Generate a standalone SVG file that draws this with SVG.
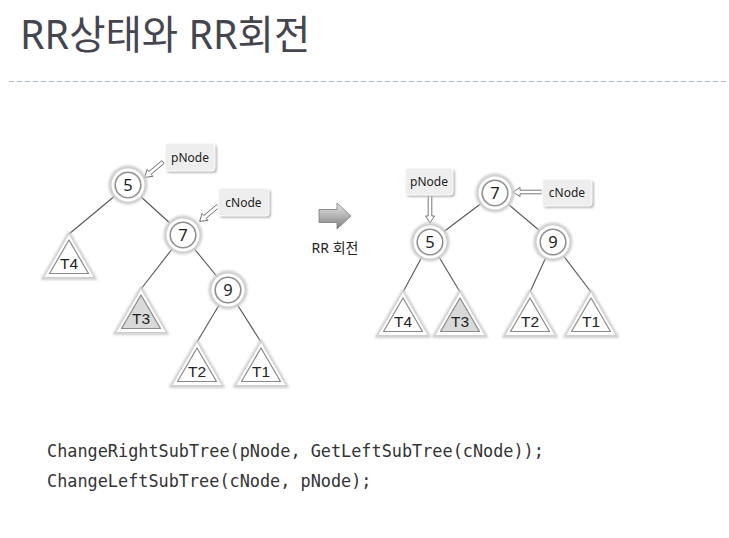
<svg xmlns="http://www.w3.org/2000/svg" xmlns:xlink="http://www.w3.org/1999/xlink" width="729" height="538" viewBox="0 0 729 538">
  <style>
    .title { font-family: "Noto Sans", "Noto Sans CJK KR", sans-serif; font-size: 39.5px; fill: #45454f; }
    .halo { fill: #cfcfcf; stroke: #cfcfcf; stroke-width: 2; stroke-linejoin: round; filter: url(#soft); }
    .ring { fill: #ffffff; }
    .core { fill: #ffffff; stroke: #8f8f8f; stroke-width: 1.6; }
    .tw { fill: #ffffff; }
    .ti { fill: #ffffff; stroke: #8a8a8a; stroke-width: 1.2; stroke-linejoin: round; }
    .shaded .ti { fill: #d9d9d9; }
    .nlabel { font-family: "Noto Sans", sans-serif; font-size: 16.5px; fill: #1e1e1e; text-anchor: middle; }
    .tlabel { font-family: "Liberation Sans", Arial, sans-serif; font-size: 15.5px; fill: #222; text-anchor: middle; }
    .tag rect.bg { fill: #eeeeee; stroke: #ffffff; stroke-width: 1; }
    .tag rect.sh { fill: #b8b8b8; filter: url(#soft); }
    .tag text { font-family: "Noto Sans", sans-serif; font-size: 12px; fill: #222; text-anchor: middle; }
    .edge { stroke: #555; stroke-width: 1.1; fill: none; }
    .hollow { fill: #ffffff; stroke: #6a6a6a; stroke-width: 0.9; stroke-linejoin: miter; }
    .code { font-family: "DejaVu Sans Mono", "Liberation Mono", monospace; font-size: 16.85px; fill: #333; }
    .cap { font-family: "Noto Sans", "Noto Sans CJK KR", sans-serif; font-size: 14px; fill: #222; text-anchor: middle; }
  </style>
  <defs>
    <filter id="soft" x="-30%" y="-30%" width="160%" height="160%">
      <feGaussianBlur stdDeviation="1.2"/>
    </filter>
    <linearGradient id="bigArrow" x1="0" y1="0" x2="0" y2="1">
      <stop offset="0" stop-color="#e6e6e6"/>
      <stop offset="0.5" stop-color="#b4b4b4"/>
      <stop offset="1" stop-color="#7d7d7d"/>
    </linearGradient>
    <!-- node disc: soft halo, white rim, thin grey inner ring -->
    <g id="disc">
      <circle r="18.5" class="halo"/>
      <circle r="16.5" class="ring"/>
      <circle r="12.8" class="core"/>
    </g>
    <!-- subtree triangle, apex at origin -->
    <g id="triShell">
      <path class="halo" d="M0,0 L27,47 L-27,47Z"/>
      <path class="tw" d="M0,2.5 L24.5,45 L-24.5,45Z"/>
    </g>
    <!-- hollow pointer arrows along +x -->
    <polygon id="ptr24" class="hollow" points="0,-1.8 17,-1.8 17,-4.5 24,0 17,4.5 17,1.8 0,1.8"/>
    <polygon id="ptr29" class="hollow" points="0,-1.8 22,-1.8 22,-4.5 29,0 22,4.5 22,1.8 0,1.8"/>
  </defs>

  <rect width="729" height="538" fill="#ffffff"/>

  <!-- heading -->
  <text class="title" x="20" y="49">RR상태와 RR회전</text>
  <line x1="9" y1="81.5" x2="727" y2="81.5" stroke="#a9b9c9" stroke-width="1" stroke-dasharray="5 3"/>

  <!-- connectors -->
  <g id="edges">
    <!-- before rotation -->
    <line class="edge" x1="128" y1="185" x2="69" y2="234"/>
    <line class="edge" x1="128" y1="185" x2="183" y2="235"/>
    <line class="edge" x1="183" y1="235" x2="141" y2="289"/>
    <line class="edge" x1="183" y1="235" x2="228" y2="290"/>
    <line class="edge" x1="228" y1="290" x2="197" y2="342"/>
    <line class="edge" x1="228" y1="290" x2="261" y2="342"/>
    <!-- after rotation -->
    <line class="edge" x1="495" y1="193" x2="430" y2="242"/>
    <line class="edge" x1="495" y1="193" x2="553" y2="242"/>
    <line class="edge" x1="430" y1="242" x2="403" y2="292"/>
    <line class="edge" x1="430" y1="242" x2="460" y2="292"/>
    <line class="edge" x1="553" y1="242" x2="530" y2="292"/>
    <line class="edge" x1="553" y1="242" x2="591" y2="292"/>
    <!-- pointer arrows -->
    <use xlink:href="#ptr24" transform="translate(163,162) rotate(140)"/>
    <use xlink:href="#ptr24" transform="translate(218,206) rotate(140)"/>
    <use xlink:href="#ptr29" transform="translate(430,194) rotate(90)"/>
    <use xlink:href="#ptr29" transform="translate(542,192) rotate(180)"/>
  </g>

  <!-- before rotation: tree -->
  <g id="L_n5" transform="translate(128,185)"><use xlink:href="#disc"/><text class="nlabel" y="6">5</text></g>
  <g id="L_n7" transform="translate(183,235)"><use xlink:href="#disc"/><text class="nlabel" y="6">7</text></g>
  <g id="L_n9" transform="translate(228,290)"><use xlink:href="#disc"/><text class="nlabel" y="6">9</text></g>

  <g id="L_T4" transform="translate(69,232)"><use xlink:href="#triShell"/><path class="ti" d="M0,8 L19.5,41.5 L-19.5,41.5Z"/><text class="tlabel" y="37">T4</text></g>
  <g id="L_T3" class="shaded" transform="translate(141,287)"><use xlink:href="#triShell"/><path class="ti" d="M0,8 L19.5,41.5 L-19.5,41.5Z"/><text class="tlabel" y="37">T3</text></g>
  <g id="L_T2" transform="translate(197,340)"><use xlink:href="#triShell"/><path class="ti" d="M0,8 L19.5,41.5 L-19.5,41.5Z"/><text class="tlabel" y="37">T2</text></g>
  <g id="L_T1" transform="translate(261,340)"><use xlink:href="#triShell"/><path class="ti" d="M0,8 L19.5,41.5 L-19.5,41.5Z"/><text class="tlabel" y="37">T1</text></g>

  <g id="L_pNode" class="tag"><rect class="sh" x="167" y="145" width="50" height="28" rx="3"/><rect class="bg" x="165" y="143" width="50" height="28" rx="3"/><text x="190" y="161.5">pNode</text></g>
  <g id="L_cNode" class="tag"><rect class="sh" x="220" y="190" width="51" height="28" rx="3"/><rect class="bg" x="218" y="188" width="51" height="28" rx="3"/><text x="243.5" y="206.5">cNode</text></g>

  <!-- transition arrow -->
  <g id="rotate">
    <polygon points="319,209.5 337,209.5 337,203 351,216 337,229 337,222.5 319,222.5" fill="url(#bigArrow)" stroke="#7a7a7a" stroke-width="0.8"/>
    <text class="cap" x="335" y="253">RR 회전</text>
  </g>

  <!-- after rotation: tree -->
  <g id="R_n7" transform="translate(495,193)"><use xlink:href="#disc"/><text class="nlabel" y="6">7</text></g>
  <g id="R_n5" transform="translate(430,242)"><use xlink:href="#disc"/><text class="nlabel" y="6">5</text></g>
  <g id="R_n9" transform="translate(553,242)"><use xlink:href="#disc"/><text class="nlabel" y="6">9</text></g>

  <g id="R_T4" transform="translate(403,290)"><use xlink:href="#triShell"/><path class="ti" d="M0,8 L19.5,41.5 L-19.5,41.5Z"/><text class="tlabel" y="37">T4</text></g>
  <g id="R_T3" class="shaded" transform="translate(460,290)"><use xlink:href="#triShell"/><path class="ti" d="M0,8 L19.5,41.5 L-19.5,41.5Z"/><text class="tlabel" y="37">T3</text></g>
  <g id="R_T2" transform="translate(530,290)"><use xlink:href="#triShell"/><path class="ti" d="M0,8 L19.5,41.5 L-19.5,41.5Z"/><text class="tlabel" y="37">T2</text></g>
  <g id="R_T1" transform="translate(591,290)"><use xlink:href="#triShell"/><path class="ti" d="M0,8 L19.5,41.5 L-19.5,41.5Z"/><text class="tlabel" y="37">T1</text></g>

  <g id="R_pNode" class="tag"><rect class="sh" x="407" y="170" width="48" height="27" rx="3"/><rect class="bg" x="405" y="168" width="48" height="27" rx="3"/><text x="429" y="186">pNode</text></g>
  <g id="R_cNode" class="tag"><rect class="sh" x="544" y="181" width="50" height="27" rx="3"/><rect class="bg" x="542" y="179" width="50" height="27" rx="3"/><text x="567" y="197">cNode</text></g>

  <!-- code -->
  <text class="code" x="47" y="457">ChangeRightSubTree(pNode, GetLeftSubTree(cNode));</text>
  <text class="code" x="47" y="487">ChangeLeftSubTree(cNode, pNode);</text>
</svg>
